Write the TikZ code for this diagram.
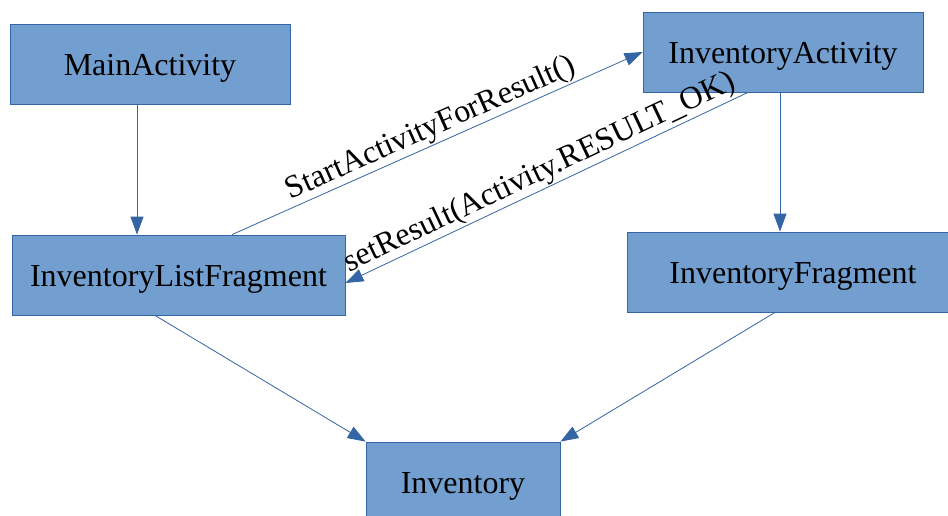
\documentclass[tikz,border=0pt]{standalone}
\usepackage{fontspec}
\setmainfont{Liberation Serif}
\usepackage{tikz}
\usetikzlibrary{arrows.meta}
\usetikzlibrary{shapes,positioning,calc}

\definecolor{boxfill}{HTML}{729FCF}
\definecolor{boxline}{HTML}{3465A4}

\tikzset{
  classbox/.style={rectangle, draw=boxline, fill=boxfill, line width=0.8pt,
    minimum height=80pt, inner sep=0pt, text height=29pt, text depth=6pt,
    font=\fontsize{32}{38}\selectfont},
  link/.style={draw=boxline, line width=0.8pt, -{Triangle[length=18pt,width=13pt]}},
  msg/.style={font=\fontsize{32}{38}\selectfont, sloped, above, inner sep=1pt}
}

\begin{document}
\begin{tikzpicture} [x=1pt, y=-1pt]
     \clip (0,0) rectangle (948,516);
     \node[classbox, minimum width=280pt] (main) at (150,64) {MainActivity};
     \node[classbox, minimum width=280pt] (invact) at (783,52) {InventoryActivity};
     \node[classbox, minimum width=333pt] (listfrag) at (178.5,275) {InventoryListFragment};
     \node[classbox, minimum width=332pt] (invfrag) at (793,272) {InventoryFragment};
     \node[classbox, minimum width=194pt] (inv) at (463,482) {Inventory};

     \draw[link] ([xshift=-13pt]main.south) -- ([xshift=-13pt]main.south |- listfrag.north);
     \draw[link] ([xshift=-3pt]invact.south) -- ([xshift=-3pt]invact.south |- invfrag.north);
     \draw[link] ([xshift=53.5pt]listfrag.north) -- (invact.west)
          node[msg, pos=0.5] {StartActivityForResult()};
     \draw[link] ([xshift=-35pt]invact.south) -- ([yshift=-8pt]listfrag.east)
          node[msg, pos=0.5] {setResult(Activity.RESULT\_OK)};
     \draw[link] ([xshift=-23.5pt]listfrag.south) -- (inv.north west);
     \draw[link] ([xshift=-18pt]invfrag.south) -- (inv.north east);
\end{tikzpicture}
\end{document}
